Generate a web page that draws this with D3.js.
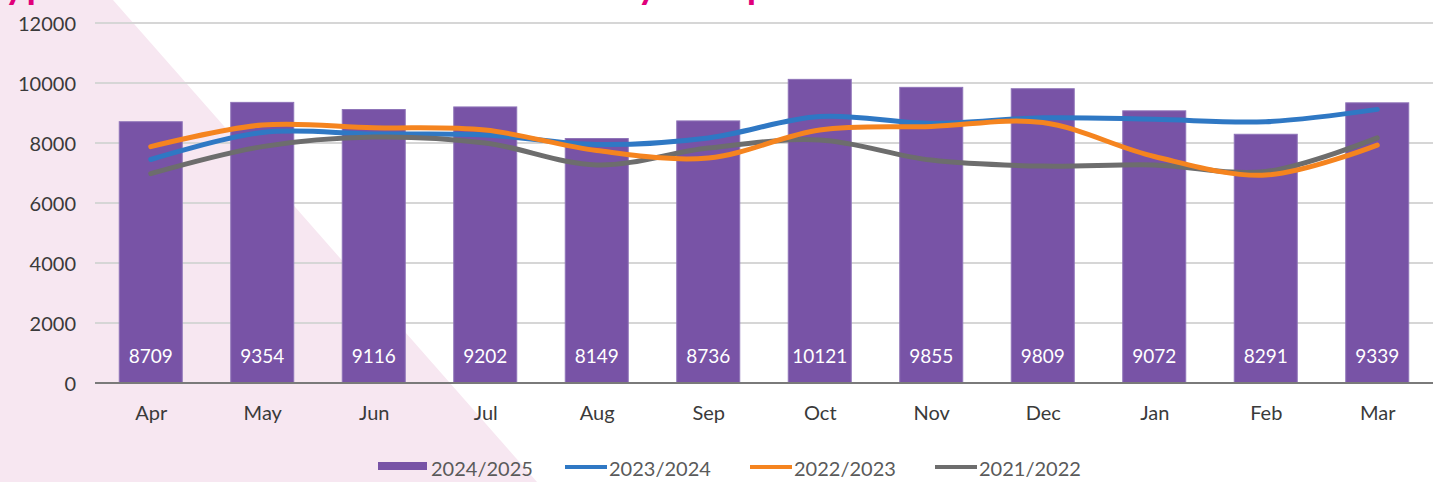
<!DOCTYPE html>
<html>
<head>
<meta charset="utf-8">
<style>
  html, body { margin: 0; padding: 0; background: #fff; }
  svg { display: block; font-family: Lato, "Open Sans", sans-serif; }
</style>
</head>
<body>
<svg id="chart" width="1440" height="482"></svg>
<script src="https://d3js.org/d3.v7.min.js"></script>
<script>
  // data
  var months = ["Apr", "May", "Jun", "Jul", "Aug", "Sep", "Oct", "Nov", "Dec", "Jan", "Feb", "Mar"]
  var yTicks = [0, 2000, 4000, 6000, 8000, 10000, 12000]
  var fy2024 = [8709, 9354, 9116, 9202, 8149, 8736, 10121, 9855, 9809, 9072, 8291, 9339]
  var fy2023 = [7450, 8350, 8300, 8270, 7950, 8170, 8880, 8650, 8840, 8790, 8710, 9120]
  var fy2022 = [7880, 8600, 8510, 8430, 7750, 7500, 8430, 8550, 8680, 7550, 6930, 7930]
  var fy2021 = [6980, 7880, 8200, 8000, 7270, 7830, 8100, 7430, 7230, 7270, 7050, 8170]
  var legendNames = ["2024/2025", "2023/2024", "2022/2023", "2021/2022"]
  var colors = { bar: "#7853a6", blue: "#2f78c4", orange: "#f5841f", gray: "#6d6d6d" }

  var svg = d3.select("#chart")

  // pink diagonal background
  svg.append("polygon")
    .attr("points", "0,0 113,0 537,482 0,482")
    .attr("fill", "#f7e7f1")

  // title, cut off at the top edge like the source (only descenders show)
  svg.append("text")
    .attr("x", -17).attr("y", -1)
    .attr("fill", "#e0007a")
    .attr("font-weight", "bold")
    .attr("font-size", 38)
    .attr("textLength", 900)
    .attr("lengthAdjust", "spacing")
    .text("Typical Total Attendances \u2013 Monthly comparison")

  // scales
  var x = d3.scalePoint().domain(months).range([95, 1433]).padding(0.5)
  var y = d3.scaleLinear().domain([0, 12000]).range([383, 23])
  var barW = x.step() * 0.565

  // gridlines
  svg.append("g").selectAll("line")
    .data(yTicks.slice(1))
    .enter().append("line")
    .attr("x1", 95).attr("x2", 1433)
    .attr("y1", (d) => y(d)).attr("y2", (d) => y(d))
    .attr("stroke", "#d6d6d6")
    .attr("stroke-width", 2)

  // y axis labels
  var yAxis = svg.append("g")
    .attr("transform", "translate(76,0)")
    .call(d3.axisLeft(y).tickValues(yTicks).tickFormat(d3.format("d")).tickSize(0).tickPadding(0))
  yAxis.select(".domain").remove()
  yAxis.selectAll("text")
    .attr("font-family", "Lato, sans-serif")
    .attr("font-size", 20)
    .attr("fill", "#3a3a3a")
    .attr("dy", "0.35em")

  // bars
  svg.append("g").selectAll("rect")
    .data(fy2024)
    .enter().append("rect")
    .attr("x", (d, i) => x(months[i]) - barW / 2)
    .attr("y", (d) => y(d))
    .attr("width", barW)
    .attr("height", (d) => y(0) - y(d))
    .attr("fill", colors.bar)
    .attr("stroke", "#8f74b8")
    .attr("stroke-width", 1)

  // x axis
  var xAxis = svg.append("g")
    .attr("transform", "translate(0," + y(0) + ")")
    .call(d3.axisBottom(x).tickSize(0).tickPadding(0))
  xAxis.select(".domain")
    .attr("d", "M95,0H1433")
    .attr("stroke", "#7a7a7a")
    .attr("stroke-width", 2)
  xAxis.selectAll("text")
    .attr("font-family", "Lato, sans-serif")
    .attr("font-size", 20)
    .attr("fill", "#3a3a3a")
    .attr("dy", "1.85em")

  // lines
  var line = d3.line()
    .x((d, i) => x(months[i]))
    .y((d) => y(d))
    .curve(d3.curveCatmullRom.alpha(0.5))
  var series = [[fy2023, colors.blue], [fy2021, colors.gray], [fy2022, colors.orange]]
  series.forEach((s) => {
    svg.append("path")
      .datum(s[0])
      .attr("d", line)
      .attr("fill", "none")
      .attr("stroke", s[1])
      .attr("stroke-width", 5)
      .attr("stroke-linecap", "round")
      .attr("stroke-linejoin", "round")
  })

  // bar value labels
  svg.append("g").selectAll("text")
    .data(fy2024)
    .enter().append("text")
    .attr("x", (d, i) => x(months[i]))
    .attr("y", 363)
    .attr("text-anchor", "middle")
    .attr("font-size", 19)
    .attr("fill", "#ffffff")
    .text((d) => d)

  // legend
  var legColors = [colors.bar, colors.blue, colors.orange, colors.gray]
  var leg = svg.append("g").selectAll("g")
    .data(legendNames)
    .enter().append("g")
    .attr("transform", (d, i) => "translate(" + (378 + i * 185) + ",0)")
  leg.append("rect")
    .attr("x", (d, i) => i == 0 ? 0 : 2)
    .attr("y", (d, i) => i == 0 ? 462 : 465)
    .attr("width", (d, i) => i == 0 ? 49 : 42)
    .attr("height", (d, i) => i == 0 ? 8 : 4)
    .attr("fill", (d, i) => legColors[i])
  leg.append("text")
    .attr("x", (d, i) => i == 0 ? 53 : 46)
    .attr("y", 476)
    .attr("font-size", 20)
    .attr("fill", "#5a5a5a")
    .text((d) => d)
</script>
</body>
</html>
